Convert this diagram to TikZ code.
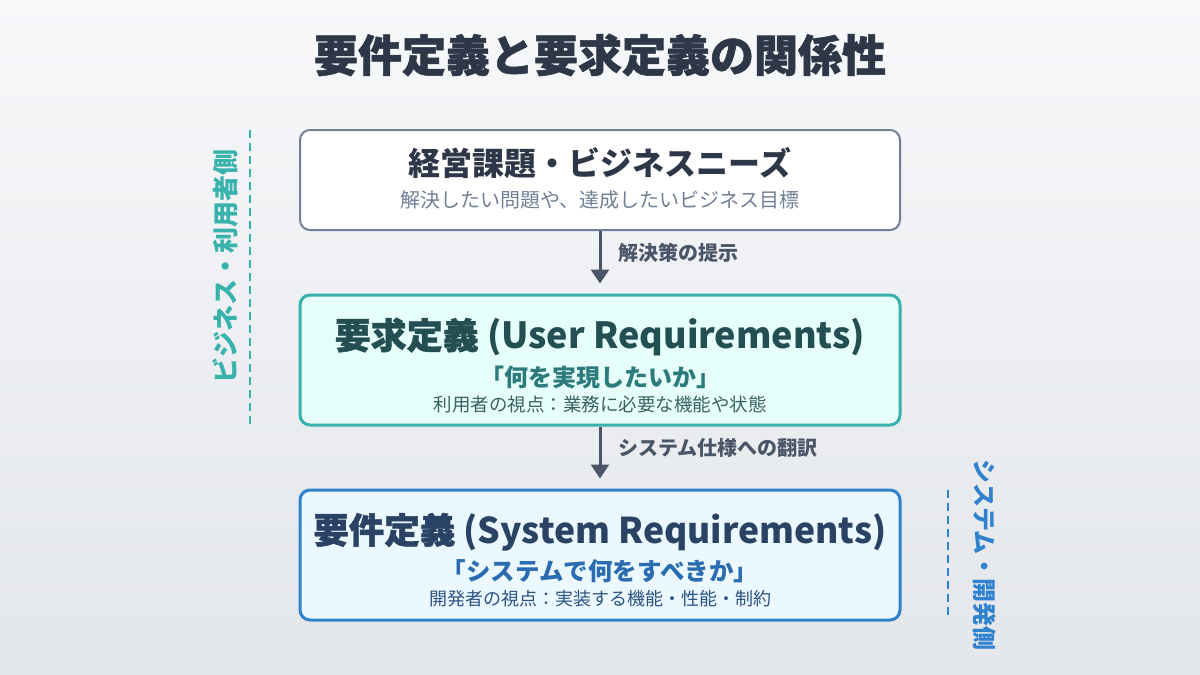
\documentclass[tikz,border=0pt]{standalone}
\usepackage{fontspec}
\setmainfont{Noto Sans CJK JP}
\usetikzlibrary{arrows.meta}
\definecolor{bgtop}{HTML}{F7F8FA}
\definecolor{bgbot}{HTML}{E3E6EA}
\definecolor{dark}{HTML}{2D3748}
\definecolor{grayb}{HTML}{718096}
\definecolor{arrowc}{HTML}{4A5568}
\definecolor{tealb}{HTML}{38B2AC}
\definecolor{tealf}{HTML}{E6FFFA}
\definecolor{tealh}{HTML}{234E52}
\definecolor{tealm}{HTML}{2C7A7B}
\definecolor{teals}{HTML}{3A6262}
\definecolor{blueb}{HTML}{3182CE}
\definecolor{bluef}{HTML}{EBF8FF}
\definecolor{blueh}{HTML}{2A4365}
\definecolor{bluem}{HTML}{2B6CB0}
\definecolor{blues}{HTML}{2C5282}
\newcommand{\heavycjk}[1]{{\addfontfeature{FakeBold=1.2}#1}}
\tikzset{
  boxbase/.style={rounded corners=10pt, minimum width=600pt, inner sep=0pt},
  graybox/.style={boxbase, draw=grayb, line width=2pt, fill=white, minimum height=100pt},
  tealbox/.style={boxbase, draw=tealb, line width=3pt, fill=tealf, minimum height=130pt},
  bluebox/.style={boxbase, draw=blueb, line width=3pt, fill=bluef, minimum height=130pt},
  txt/.style={inner sep=0pt, anchor=center},
  flow/.style={draw=arrowc, line width=3pt, -{Triangle[length=14pt,width=18pt]}, shorten >=10pt},
  flowlabel/.style={inner sep=0pt, anchor=west, text=arrowc, font=\fontsize{20}{24}\selectfont\bfseries},
  sideline/.style={line width=1.5pt, dash pattern=on 8pt off 5pt},
}
\begin{document}
\begin{tikzpicture}[x=1pt,y=-1pt]
\shade[top color=bgtop, bottom color=bgbot] (0,0) rectangle (1200,675);
\useasboundingbox (0,0) rectangle (1200,675);

\node[txt, text=dark, font=\fontsize{44}{50}\selectfont\bfseries] (title) at (600,55) {\heavycjk{要件定義と要求定義の関係性}};

% box 1
\node[graybox] (b1) at (600,180) {};
\node[txt, text=dark, font=\fontsize{32}{36}\selectfont\bfseries] (h1) at (600,163) {経営課題・ビジネスニーズ};
\node[txt, text=grayb, font=\fontsize{20}{24}\selectfont] (s1) at (600,200) {解決したい問題や、達成したいビジネス目標};

% box 2
\node[tealbox] (b2) at (600,360) {};
\node[txt, text=tealh, font=\fontsize{36}{42}\selectfont\bfseries] (h2) at (600,337) {\heavycjk{要求定義} (User Requirements)};
\node[txt, text=tealm, font=\fontsize{24}{28}\selectfont\bfseries] (m2) at (600,377) {「何を実現したいか」};
\node[txt, text=teals, font=\fontsize{18.5}{22}\selectfont] (s2) at (600,404) {利用者の視点：業務に必要な機能や状態};

% box 3
\node[bluebox] (b3) at (600,555) {};
\node[txt, text=blueh, font=\fontsize{35.5}{42}\selectfont\bfseries] (h3) at (600,532) {\heavycjk{要件定義} (System Requirements)};
\node[txt, text=bluem, font=\fontsize{24.5}{28}\selectfont\bfseries] (m3) at (600,571) {「システムで何をすべきか」};
\node[txt, text=blues, font=\fontsize{18}{22}\selectfont] (s3) at (600,599) {開発者の視点：実装する機能・性能・制約};

% arrows
\draw[flow] (b1.south) -- (b2.north);
\node[flowlabel] (l1) at (618,253) {解決策の提示};
\draw[flow] (b2.south) -- (b3.north);
\node[flowlabel] (l2) at (618,448) {システム仕様への翻訳};

% side annotations
\coordinate (la) at (250,130);
\coordinate (lb) at (250,425);
\draw[sideline, draw=tealb] (la) -- (lb);
\node[txt, rotate=90, text=tealb, font=\fontsize{26}{30}\selectfont\bfseries] (lt) at (225,266) {ビジネス・利用者側};

\coordinate (ra) at (948,490);
\coordinate (rb) at (948,617);
\draw[sideline, draw=blueb] (ra) -- (rb);
\node[txt, rotate=-90, text=blueb, font=\fontsize{24}{28}\selectfont\bfseries] (rt) at (985,555) {システム・開発側};
\end{tikzpicture}
\end{document}
